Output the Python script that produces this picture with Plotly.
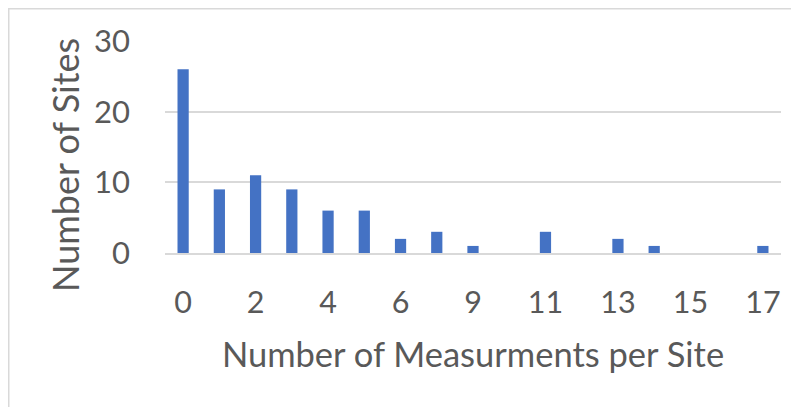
import plotly.graph_objects as go

# Data
categories = ["0", "1", "2", "3", "4", "5", "6", "7", "9", "10", "11", "12", "13", "14", "15", "16", "17"]
site_counts = [26, 9, 11, 9, 6, 6, 2, 3, 1, 0, 3, 0, 2, 1, 0, 0, 1]
x_tick_labels = ["0", "2", "4", "6", "9", "11", "13", "15", "17"]
y_tick_values = [0, 10, 20, 30]

# The page body has an 8px default margin, so the figure is sized to fit the window.
W, H = 791, 399
L, R, T, B = 157, 18, 33, 154

FONT = "Lato"
GRAY = "#595959"
GRID = "#d9d9d9"

fig = go.Figure()
fig.add_trace(go.Bar(
    x=categories,
    y=site_counts,
    marker=dict(color="#4472C4", line=dict(width=0)),
    hoverinfo="x+y",
))

fig.update_layout(
    width=W, height=H,
    margin=dict(l=L, r=R, t=T, b=B, pad=0),
    paper_bgcolor="white",
    plot_bgcolor="white",
    bargap=0.69,
    showlegend=False,
    font=dict(family=FONT, color=GRAY),
)

fig.update_xaxes(
    type="category",
    categoryorder="array",
    categoryarray=categories,
    tickmode="array",
    tickvals=x_tick_labels,
    ticktext=x_tick_labels,
    tickfont=dict(size=30.5, color=GRAY, family=FONT),
    ticks="",
    ticklabelstandoff=22,
    showgrid=False,
    showline=True,
    linecolor=GRID,
    linewidth=1.5,
    automargin=False,
    title=dict(text="Number of Measurments per Site", font=dict(size=34.5, color=GRAY, family=FONT), standoff=25),
    fixedrange=True,
)

fig.update_yaxes(
    range=[0, 30],
    tickmode="array",
    tickvals=y_tick_values,
    tickfont=dict(size=31, color=GRAY, family=FONT),
    ticks="",
    ticklabelstandoff=34,
    showgrid=True,
    gridcolor=GRID,
    gridwidth=1.5,
    zeroline=False,
    showline=False,
    automargin=False,
    fixedrange=True,
)

px_w = W - L - R
px_h = H - T - B

# y-axis title, placed lower than the plot centre as in the reference
fig.add_annotation(
    text="Number of Sites",
    xref="paper", yref="paper",
    x=(57 - L) / px_w, y=(H - B - 157) / px_h,
    xanchor="center", yanchor="middle",
    textangle=-90, showarrow=False,
    font=dict(size=36, color=GRAY, family=FONT),
)

# outer chart border (cropped on right/bottom)
fig.add_shape(
    type="rect", xref="paper", yref="paper",
    x0=(0.75 - L) / px_w, x1=(W + 20 - L) / px_w,
    y0=(H - B - (H + 20)) / px_h, y1=(H - B - 0.75) / px_h,
    line=dict(color=GRID, width=1.5), fillcolor="rgba(0,0,0,0)",
    layer="below",
)

fig.write_html("out.html")
